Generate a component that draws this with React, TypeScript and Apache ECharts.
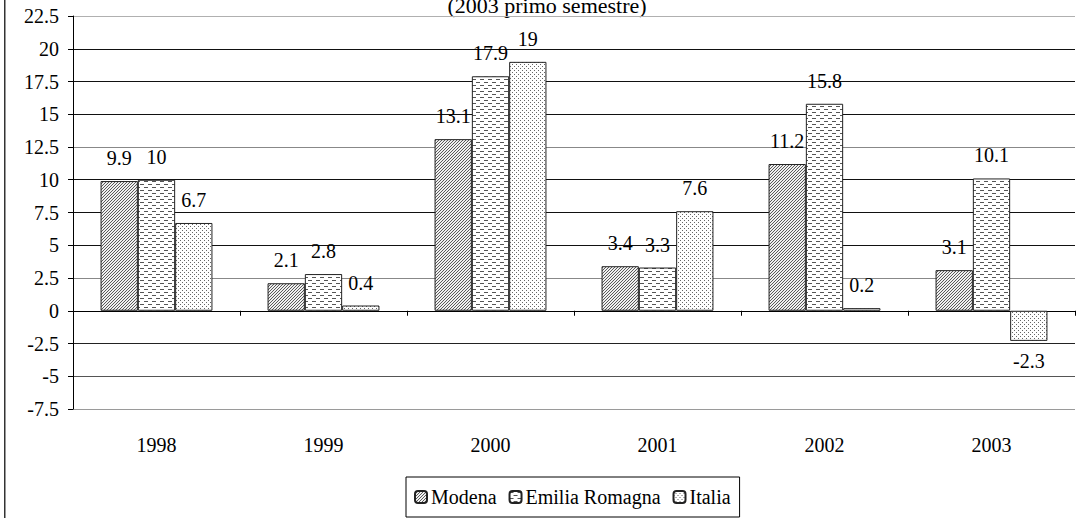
import React, { useEffect, useRef } from "react";
import * as echarts from "echarts";

const years = ["1998", "1999", "2000", "2001", "2002", "2003"];
const modena = [9.9, 2.1, 13.1, 3.4, 11.2, 3.1];
const emiliaRomagna = [10, 2.8, 17.9, 3.3, 15.8, 10.1];
const italia = [6.7, 0.4, 19, 7.6, 0.2, -2.3];
const seriesNames = ["Modena", "Emilia Romagna", "Italia"];
const titleText = "(2003 primo semestre)";

const FONT = "Liberation Serif";

function makeTile(w: number, h: number, draw: (ctx: CanvasRenderingContext2D) => void) {
  const c = document.createElement("canvas");
  c.width = w;
  c.height = h;
  const ctx = c.getContext("2d")!;
  ctx.fillStyle = "#ffffff";
  ctx.fillRect(0, 0, w, h);
  draw(ctx);
  return c;
}

export default function App() {
  const ref = useRef<HTMLDivElement>(null);

  useEffect(() => {
    if (!ref.current) return;
    const chart = echarts.init(ref.current, undefined, { renderer: "svg" });

    const hatch = makeTile(3, 3, (ctx) => {
      ctx.fillStyle = "#f0f0f0";
      ctx.fillRect(0, 0, 3, 3);
      ctx.fillStyle = "#5a5a5a";
      ctx.fillRect(2, 0, 1, 1);
      ctx.fillRect(1, 1, 1, 1);
      ctx.fillRect(0, 2, 1, 1);
    });
    const dashes = makeTile(8, 6, (ctx) => {
      ctx.fillStyle = "#555555";
      ctx.fillRect(0, 1, 4, 1);
      ctx.fillRect(4, 4, 4, 1);
    });
    const dots = makeTile(4, 4, (ctx) => {
      ctx.fillStyle = "#666666";
      ctx.fillRect(0, 0, 1, 1);
      ctx.fillRect(2, 2, 1, 1);
    });
    const patterns = [hatch, dashes, dots];
    const dataSets = [modena, emiliaRomagna, italia];

    const labelBase = {
      show: true,
      position: "top" as const,
      distance: 13,
      fontSize: 20,
      fontFamily: FONT,
      color: "#000",
    };

    const gridColors = [
      "#9a9a9a", "#555", "#222", "#000", "#888", "#111", "#111",
      "#111", "#888", "#111", "#111", "#111", "#b0b0b0",
    ];

    chart.setOption({
      animation: false,
      backgroundColor: "#ffffff",
      textStyle: { fontFamily: FONT },
      grid: { left: 73, right: 1, top: 16, bottom: 109, containLabel: false },
      legend: {
        data: seriesNames,
        left: 406,
        top: 477,
        orient: "horizontal",
        padding: [10, 9, 10, 8],
        itemWidth: 12,
        itemHeight: 12,
        itemGap: 12,
        borderColor: "#000",
        borderWidth: 1,
        textStyle: { fontSize: 20, fontFamily: FONT, color: "#000", padding: [0, 0, 0, -1] },
      },
      xAxis: [
        {
          type: "category",
          data: years,
          position: "bottom",
          axisLine: { show: true, onZero: true, lineStyle: { color: "#000", width: 1 } },
          axisTick: { show: true, length: 5, lineStyle: { color: "#000" } },
          axisLabel: { show: false },
          splitLine: { show: false },
        },
        {
          type: "category",
          data: years,
          position: "bottom",
          axisLine: { show: false, onZero: false },
          axisTick: { show: false },
          axisLabel: {
            show: true,
            margin: 26,
            fontSize: 20,
            fontFamily: FONT,
            color: "#000",
          },
          splitLine: { show: false },
        },
      ],
      yAxis: {
        type: "value",
        min: -7.5,
        max: 22.5,
        interval: 2.5,
        axisLine: { show: true, lineStyle: { color: "#000" } },
        axisTick: { show: true, length: 5, lineStyle: { color: "#000" } },
        axisLabel: {
          margin: 14,
          fontSize: 20,
          fontFamily: FONT,
          color: "#000",
        },
        splitLine: { show: true, lineStyle: { color: gridColors, width: 1 } },
      },
      series: dataSets.map((vals, i) => ({
        name: seriesNames[i],
        type: "bar",
        xAxisIndex: 0,
        barGap: "0%",
        barCategoryGap: "33%",
        itemStyle: {
          color: { image: patterns[i], repeat: "repeat" },
          borderColor: "#222",
          borderWidth: 1,
        },
        label: labelBase,
        data: vals.map((v) =>
          v < 0 ? { value: v, label: { position: "bottom", distance: 10 } } : v
        ),
      })),
      graphic: [
        {
          type: "rect",
          shape: { x: 4, y: 0, width: 1.5, height: 518 },
          style: { fill: "#333" },
          silent: true,
        },
        {
          type: "text",
          x: 547,
          y: 5,
          style: {
            text: titleText,
            fontSize: 22,
            fontFamily: FONT,
            fill: "#000",
            align: "center",
            verticalAlign: "middle",
          },
          silent: true,
        },
      ],
    });

    return () => chart.dispose();
  }, []);

  return (
    <div
      ref={ref}
      style={{ position: "fixed", left: 0, top: 0, width: 1076, height: 518, background: "#fff" }}
    />
  );
}
